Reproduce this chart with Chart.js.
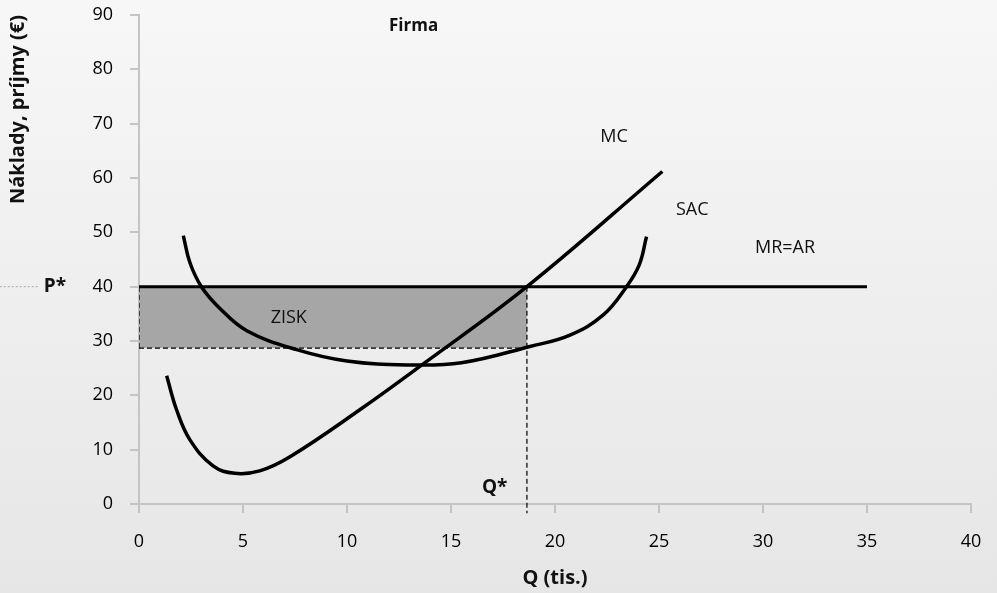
<!DOCTYPE html>
<html>
<head>
<meta charset="utf-8">
<script src="https://cdn.jsdelivr.net/npm/chart.js@4"></script>
<style>
  body { margin: 0; background: #eeeeee; }
  #wrap { width: 997px; height: 593px; }
</style>
</head>
<body>
<div id="wrap"><canvas id="canvas" width="997" height="593"></canvas></div>
<script>
const canvas = document.getElementById('canvas');
const ctx = canvas.getContext('2d');

// curve points (Q in thousands, cost in €)
const mcX = [1.33, 1.81, 2.45, 3.56, 4.6, 5.8, 7.26, 10.6, 13.6, 18.65, 25.16];
const mcY = [23.6, 17.3, 11.8, 7.0, 5.65, 6.1, 8.7, 17.3, 25.6, 40, 61.2];
const sacX = [2.13, 2.45, 3.0, 3.89, 5.18, 7.58, 10, 12.9, 15.5, 18.8, 20.72, 22.32, 23.44, 24.05, 24.4];
const sacY = [49.4, 44.4, 40, 36, 31.9, 28.4, 26.3, 25.6, 26, 29, 31.1, 34.8, 40, 44.0, 49.2];
const mrX = [0, 35];
const mrY = [40, 40];
const pStar = 40;      // price
const qStar = 18.65;   // output
const sacAtQ = 28.7;   // average cost at Q*
const xTicks = [0, 5, 10, 15, 20, 25, 30, 35, 40];
const yTicks = [0, 10, 20, 30, 40, 50, 60, 70, 80, 90];

const pts = (xs, ys) => xs.map((x, i) => ({ x: x, y: ys[i] }));
const font = "'Open Sans', 'DejaVu Sans', sans-serif";

const bgPlugin = {
  id: 'bg',
  beforeDraw(chart) {
    const c = chart.ctx;
    const g = c.createLinearGradient(0, 0, 0, chart.height);
    g.addColorStop(0, '#f7f7f7');
    g.addColorStop(1, '#e6e6e6');
    c.save();
    c.fillStyle = g;
    c.fillRect(0, 0, chart.width, chart.height);
    c.restore();
  }
};

// text labels placed in data units
const labelPlugin = {
  id: 'labels',
  afterDatasetsDraw(chart) {
    const c = chart.ctx;
    const xs = chart.scales.x, ys = chart.scales.y;
    const put = (txt, x, y, f) => {
      c.font = f;
      c.fillText(txt, xs.getPixelForValue(x), ys.getPixelForValue(y));
    };
    c.save();
    c.fillStyle = '#111';
    c.textAlign = 'center';
    c.textBaseline = 'middle';
    put('Firma', 13.2, 88, 'bold 17px ' + font);
    put('MC', 22.84, 67.6, '18px ' + font);
    put('SAC', 26.6, 54.1, '18px ' + font);
    put('MR=AR', 31.06, 47.1, '18px ' + font);
    put('ZISK', 7.2, 34.3, '18px ' + font);
    put('P*', -4.04, pStar, 'bold 19px ' + font);
    put('Q*', 17.1, 3.1, 'bold 19px ' + font);
    c.restore();
  }
};

const data = {
  datasets: [
    { label: 'MC', data: pts(mcX, mcY), borderColor: '#000', borderWidth: 3.5, tension: 0.4, order: 1 },
    { label: 'SAC', data: pts(sacX, sacY), borderColor: '#000', borderWidth: 3.5, tension: 0.4, order: 1 },
    { label: 'MR=AR', data: pts(mrX, mrY), borderColor: '#000', borderWidth: 3, order: 2 },
    { label: 'zisk top', data: pts([0, qStar], [pStar, pStar]), borderColor: '#000', borderWidth: 1.2,
      borderDash: [5, 3], backgroundColor: '#a6a6a6', fill: '+1', order: 5 },
    { label: 'zisk bottom', data: pts([0, qStar], [sacAtQ, sacAtQ]), borderColor: '#000', borderWidth: 1.2,
      borderDash: [5, 3], order: 4 },
    { label: 'zisk left', data: pts([0, 0], [sacAtQ, pStar]), borderColor: '#000', borderWidth: 1.2,
      borderDash: [5, 3], order: 4 },
    { label: 'Q*', data: pts([qStar, qStar], [pStar, -1.7]), borderColor: '#000', borderWidth: 1.2,
      borderDash: [5, 3], clip: false, order: 4 },
    { label: 'P*', data: pts([-6.7, -4.8], [pStar, pStar]), borderColor: '#aaa', borderWidth: 1,
      borderDash: [2, 2], clip: false, order: 4 }
  ]
};

new Chart(ctx, {
  type: 'scatter',
  data: data,
  options: {
    responsive: false,
    animation: false,
    showLine: true,
    elements: { point: { radius: 0, hoverRadius: 0 }, line: { fill: false } },
    layout: { padding: { top: 15, right: 26, bottom: 0, left: 0 } },
    plugins: { legend: { display: false }, tooltip: { enabled: false } },
    scales: {
      x: {
        type: 'linear', min: 0, max: 40,
        afterBuildTicks: s => { s.ticks = xTicks.map(v => ({ value: v })); },
        afterFit: s => { s.height = 89; s.paddingLeft = 0; s.paddingRight = 0; },
        grid: { drawOnChartArea: false, drawTicks: true, tickLength: 9, color: '#c4c4c4', lineWidth: 2 },
        border: { color: '#c4c4c4', width: 2 },
        ticks: { color: '#000', padding: 18, font: { family: font, size: 18 } },
        title: { display: true, text: 'Q (tis.)', color: '#111', padding: { top: 0, bottom: 3 },
          font: { family: font, size: 20, weight: 'bold' } }
      },
      y: {
        type: 'linear', min: 0, max: 90,
        afterBuildTicks: s => { s.ticks = yTicks.map(v => ({ value: v })); },
        afterFit: s => { s.width = 139; s.paddingTop = 0; s.paddingBottom = 0; },
        grid: { drawOnChartArea: false, drawTicks: true, tickLength: 9, color: '#c4c4c4', lineWidth: 2 },
        border: { color: '#c4c4c4', width: 2 },
        ticks: { color: '#000', padding: 17, font: { family: font, size: 18 } },
        title: { display: true, text: 'Náklady, príjmy (€)', color: '#111', align: 'end',
          padding: { top: 6, bottom: 0 }, font: { family: font, size: 20, weight: 'bold' } }
      }
    }
  },
  plugins: [bgPlugin, labelPlugin]
});
</script>
</body>
</html>
